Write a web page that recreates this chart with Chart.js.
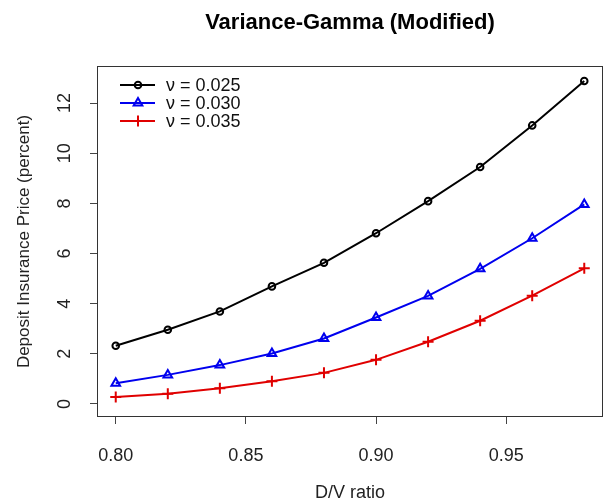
<!DOCTYPE html>
<html>
<head>
<meta charset="utf-8">
<script src="https://cdn.jsdelivr.net/npm/chart.js@4.4.1/dist/chart.umd.min.js"></script>
<style>
  html, body { margin: 0; padding: 0; background: #fff; }
</style>
</head>
<body>
<canvas id="chart" width="605" height="504"></canvas>
<script>
// values
const dvRatio = [0.80, 0.82, 0.84, 0.86, 0.88, 0.90, 0.92, 0.94, 0.96, 0.98];
const nu025 = [2.32, 2.96, 3.69, 4.69, 5.63, 6.81, 8.09, 9.45, 11.11, 12.88];
const nu030 = [0.83, 1.16, 1.55, 2.01, 2.61, 3.45, 4.31, 5.39, 6.61, 7.96];
const nu035 = [0.28, 0.41, 0.63, 0.91, 1.24, 1.76, 2.48, 3.32, 4.32, 5.41];
const seriesLabels = ["ν = 0.025", "ν = 0.030", "ν = 0.035"];
const xTicks = [0.80, 0.85, 0.90, 0.95];
const yTicks = [0, 2, 4, 6, 8, 10, 12];

const FONT = "'Liberation Sans', Arial, sans-serif";

function toPoints(ys) {
  return dvRatio.map((x, i) => ({ x: x, y: ys[i] }));
}

// R style box around the plot region
const boxPlugin = {
  id: "box",
  afterDraw(chart) {
    const { ctx, chartArea: a } = chart;
    ctx.save();
    ctx.strokeStyle = "#333";
    ctx.lineWidth = 1;
    ctx.strokeRect(a.left + 0.5, a.top + 0.5, a.right - a.left - 1, a.bottom - a.top - 1);
    ctx.restore();
  },
};

// legend with line + marker like R's legend()
const legendPlugin = {
  id: "rLegend",
  afterDraw(chart) {
    const ctx = chart.ctx;
    ctx.save();
    chart.data.datasets.forEach((ds, i) => {
      const y = 85 + i * 18;
      ctx.strokeStyle = ds.borderColor;
      ctx.lineWidth = 2;
      ctx.beginPath();
      ctx.moveTo(120, y);
      ctx.lineTo(155, y);
      ctx.stroke();
      ctx.fillStyle = "rgba(0,0,0,0)";
      ctx.strokeStyle = ds.pointBorderColor;
      ctx.lineWidth = ds.pointBorderWidth;
      Chart.helpers.drawPoint(ctx, {
        pointStyle: ds.pointStyle,
        radius: ds.pointRadius,
        borderWidth: ds.pointBorderWidth,
        rotation: 0,
      }, 138, y);
      ctx.fillStyle = "#111";
      ctx.font = "18px " + FONT;
      ctx.textBaseline = "middle";
      ctx.textAlign = "left";
      ctx.fillText(ds.label, 166, y + 1);
    });
    ctx.restore();
  },
};

const ctx = document.getElementById("chart").getContext("2d");
new Chart(ctx, {
  type: "line",
  data: {
    datasets: [
      {
        label: seriesLabels[0],
        data: toPoints(nu025),
        borderColor: "#000",
        pointBorderColor: "#000",
        pointBackgroundColor: "rgba(0,0,0,0)",
        pointStyle: "circle",
        pointRadius: 3.3,
        pointBorderWidth: 2,
        borderWidth: 2,
      },
      {
        label: seriesLabels[1],
        data: toPoints(nu030),
        borderColor: "#0000ee",
        pointBorderColor: "#0000ee",
        pointBackgroundColor: "rgba(0,0,0,0)",
        pointStyle: "triangle",
        pointRadius: 5,
        pointBorderWidth: 2,
        borderWidth: 2,
      },
      {
        label: seriesLabels[2],
        data: toPoints(nu035),
        borderColor: "#e00000",
        pointBorderColor: "#e00000",
        pointBackgroundColor: "rgba(0,0,0,0)",
        pointStyle: "cross",
        pointRadius: 5.5,
        pointBorderWidth: 2,
        borderWidth: 2,
      },
    ],
  },
  options: {
    responsive: false,
    animation: false,
    devicePixelRatio: 1,
    layout: { autoPadding: false, padding: { left: 0, right: 2, top: 0, bottom: 0 } },
    plugins: {
      legend: { display: false },
      tooltip: { enabled: false },
      title: {
        display: true,
        fullSize: false,
        text: "Variance-Gamma (Modified)",
        color: "#000",
        font: { family: FONT, size: 22, weight: "bold" },
        padding: { top: 10, bottom: 29.6 },
      },
    },
    scales: {
      x: {
        type: "linear",
        min: 0.7928,
        max: 0.9872,
        afterBuildTicks: (s) => { s.ticks = xTicks.map((v) => ({ value: v })); },
        afterFit: (s) => { s.height = 87; s.paddingLeft = 0; s.paddingRight = 0; },
        border: { display: false },
        grid: { drawOnChartArea: false, drawTicks: true, tickLength: 7, color: "#444" },
        ticks: {
          color: "#222",
          padding: 21,
          maxRotation: 0,
          font: { family: FONT, size: 18 },
          callback: (v) => Number(v).toFixed(2),
        },
        title: {
          display: true,
          text: "D/V ratio",
          color: "#222",
          font: { family: FONT, size: 18 },
          padding: { top: 0, bottom: 0 },
        },
      },
      y: {
        type: "linear",
        min: -0.52,
        max: 13.48,
        afterBuildTicks: (s) => { s.ticks = yTicks.map((v) => ({ value: v })); },
        afterFit: (s) => { s.width = 97; s.paddingTop = 0; s.paddingBottom = 0; },
        border: { display: false },
        grid: { drawOnChartArea: false, drawTicks: true, tickLength: 7, color: "#444" },
        ticks: {
          color: "#222",
          padding: 15,
          minRotation: 90,
          maxRotation: 90,
          crossAlign: "center",
          font: { family: FONT, size: 18 },
          callback: (v) => String(v),
        },
        title: {
          display: true,
          text: "Deposit Insurance Price (percent)",
          color: "#222",
          font: { family: FONT, size: 17 },
          padding: { top: 14, bottom: 0 },
        },
      },
    },
  },
  plugins: [boxPlugin, legendPlugin],
});
</script>
</body>
</html>
